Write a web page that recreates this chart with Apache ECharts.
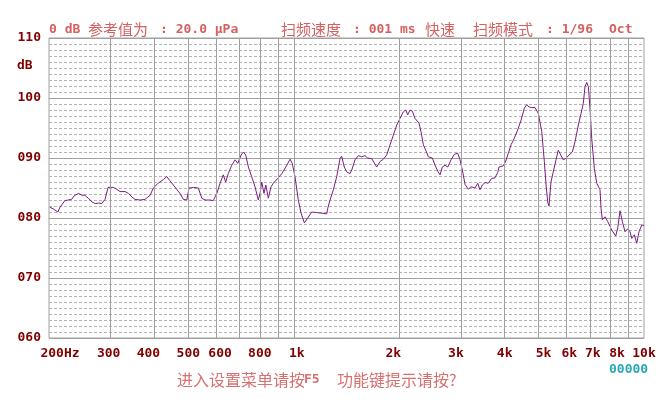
<!DOCTYPE html>
<html>
<head>
<meta charset="utf-8">
<script src="https://cdn.jsdelivr.net/npm/echarts@6/dist/echarts.min.js"></script>
<style>html,body{margin:0;padding:0;background:#fff;}#c{width:669px;height:400px;}</style>
</head>
<body>
<div id="c"></div>
<script>
// Frequencies (Hz) of the traced response
const freqs = [201,206,212,215,222,227,232,236,243,248,253,259,265,271,277,283,289,295,305,312,319,330,337,345,352,364,376,389,397,410,424,434,443,453,463,473,484,495,502,517,534,536,546,558,576,589,603,616,629,639,650,665,680,692,707,718,729,742,758,775,792,801,810,822,832,846,861,874,900,924,949,976,990,1008,1030,1049,1072,1096,1125,1163,1202,1242,1250,1269,1297,1326,1355,1370,1394,1416,1447,1464,1496,1529,1563,1597,1626,1669,1725,1763,1802,1842,1883,1924,1968,2011,2055,2088,2115,2147,2180,2219,2278,2308,2344,2381,2422,2487,2531,2577,2616,2656,2704,2752,2812,2874,2938,2983,3029,3083,3150,3207,3292,3352,3402,3455,3516,3593,3674,3755,3823,3855,3906,3966,4029,4099,4172,4264,4360,4456,4553,4626,4696,4781,4886,4993,5105,5193,5252,5309,5354,5425,5508,5607,5692,5784,5883,5976,6108,6242,6354,6493,6609,6710,6785,6862,6935,7012,7091,7213,7329,7489,7539,7604,7740,7879,8089,8303,8413,8542,8673,8828,8986,9121,9225,9384,9533,9676,9851,10000];
// Sound pressure level (dB)
const levels = [81.8,81.5,81.0,81.8,82.9,83.0,83.1,83.7,84.1,83.8,83.8,83.3,82.7,82.4,82.5,82.4,83.1,85.1,85.1,84.8,84.4,84.4,84.1,83.5,83.1,83.0,83.1,83.8,85.0,85.8,86.4,86.9,86.2,85.5,84.8,84.1,83.1,83.0,85.0,85.1,85.0,84.7,83.3,83.0,83.0,82.9,84.1,85.8,87.2,86.0,87.4,88.8,89.7,89.1,90.5,91.0,90.5,88.5,86.9,85.2,83.0,84.1,86.0,84.1,85.5,83.3,85.2,85.8,86.6,87.4,88.5,89.8,89.1,86.9,83.0,80.8,79.2,80.0,81.0,80.9,80.8,80.7,81.6,83.0,84.7,86.9,89.9,90.3,88.5,87.7,87.4,88.0,89.7,90.4,90.2,90.4,90.0,89.9,88.5,89.4,89.8,90.5,92.2,93.8,95.5,96.6,97.7,98.0,97.2,98.0,97.8,96.6,95.8,94.4,92.2,91.3,90.2,90.0,88.8,87.8,87.2,88.5,88.8,88.5,89.7,90.6,90.8,89.7,88.0,85.6,84.8,85.2,85.0,85.8,84.7,85.5,85.9,85.8,86.6,86.7,87.6,88.5,88.8,88.7,89.5,90.8,92.2,93.3,94.7,96.3,98.3,98.9,98.5,98.4,98.4,97.4,94.4,89.4,85.5,82.7,82.0,86.0,87.7,89.7,91.3,90.5,89.7,89.9,90.5,91.0,92.7,95.5,97.4,99.1,101.9,102.6,101.9,98.3,93.3,88.3,85.8,84.7,81.6,79.7,80.2,79.4,78.0,77.0,78.3,81.2,79.4,77.7,78.2,77.7,76.6,77.2,75.8,77.7,78.8,78.8];
// Axis tick labels and grid frequencies
const labelFreqs = [200,300,400,500,600,800,1000,2000,3000,4000,5000,6000,7000,8000,10000];
const labelTexts = ['200Hz','300','400','500','600','800','1k','2k','3k','4k','5k','6k','7k','8k','10k'];
const gridFreqs = [300,400,500,600,700,800,900,1000,2000,3000,4000,5000,6000,7000,8000,9000];

// label horizontal nudges (px) to mimic the instrument's label placement
const labelNudge = [11,-2,-6,0,4,0,3,-6,-5,0,5,3,3,7,0];

const chart = echarts.init(document.getElementById('c'), null, {renderer:'canvas'});
const mono = 'DejaVu Sans Mono';
const cjk = 'Noto Sans CJK SC';
const axisRed = '#800000';
const textRed = '#d46060';

const rich = {};
labelNudge.forEach(function(d, i){
  rich['l'+i] = {color:axisRed, fontFamily:mono, fontWeight:'bold', fontSize:13,
    padding: d >= 0 ? [0,0,0,2*d] : [0,-2*d,0,0]};
});

function txt(x, y, s, opts) {
  return {type:'text', x:x, y:y, silent:true, style:Object.assign({text:s, fill:textRed, font:'bold 13px "'+mono+'"', textVerticalAlign:'middle', textAlign:'left'}, opts||{})};
}
const cjkFont = '15px "'+cjk+'"';
const cjkFont2 = '16px "'+cjk+'"';

chart.setOption({
  backgroundColor:'#ffffff',
  animation:false,
  grid:{left:49, right:25, top:38, bottom:62, show:true, borderColor:'#a0a0a0', borderWidth:1},
  xAxis:{
    type:'log', logBase:10, min:200, max:10000,
    axisLine:{show:false}, axisTick:{show:false},
    splitLine:{show:false},
    axisLabel:{
      customValues: labelFreqs,
      formatter: function(v){ const i = labelFreqs.indexOf(Math.round(v)); return i>=0 ? '{l'+i+'|'+labelTexts[i]+'}' : ''; },
      rich: rich,
      color:axisRed, fontFamily:mono, fontWeight:'bold', fontSize:13, margin:9, hideOverlap:false, showMinLabel:true, showMaxLabel:true
    }
  },
  yAxis:{
    type:'value', min:60, max:110, interval:10,
    axisLine:{show:false}, axisTick:{show:false},
    axisLabel:{formatter:function(v){return String(v).padStart(3,'0');}, color:axisRed, fontFamily:mono, fontWeight:'bold', fontSize:13, margin:8},
    splitLine:{show:true, lineStyle:{color:'#a0a0a0', width:1}},
    minorTick:{show:false, splitNumber:10},
    minorSplitLine:{show:true, lineStyle:{color:'#b4b4b4', width:1, type:[3,2]}}
  },
  series:[
    {
      type:'line', data:[], silent:true, z:1,
      markLine:{silent:true, symbol:['none','none'], label:{show:false},
        lineStyle:{color:'#a0a0a0', type:'solid', width:1},
        emphasis:{disabled:true},
        data: gridFreqs.map(function(f){return {xAxis:f};})}
    },
    {
      type:'line', z:3, showSymbol:false, symbol:'none', smooth:false,
      lineStyle:{color:'#7e1a82', width:1},
      data: freqs.map(function(f,i){return [f, levels[i]];})
    }
  ],
  graphic:[
    txt(17, 66, 'dB', {fill:axisRed}),
    txt(49, 30, '0 dB'),
    txt(88, 29, '参考值为', {font:cjkFont}),
    txt(160, 30, ': 20.0 μPa'),
    txt(281, 29, '扫频速度', {font:cjkFont}),
    txt(353, 30, ': 001 ms'),
    txt(425, 29, '快速', {font:cjkFont}),
    txt(473, 29, '扫频模式', {font:cjkFont}),
    txt(546, 30, ': 1/96'),
    txt(609, 30, 'Oct'),
    txt(177, 380, '进入设置菜单请按', {font:cjkFont2, fill:'#d87070'}),
    txt(304, 380, 'F5', {fill:'#d87070'}),
    txt(337, 380, '功能键提示请按?', {font:cjkFont2, fill:'#d87070'}),
    txt(609, 370, '00000', {fill:'#2aa8b4'})
  ]
});
</script>
</body>
</html>
